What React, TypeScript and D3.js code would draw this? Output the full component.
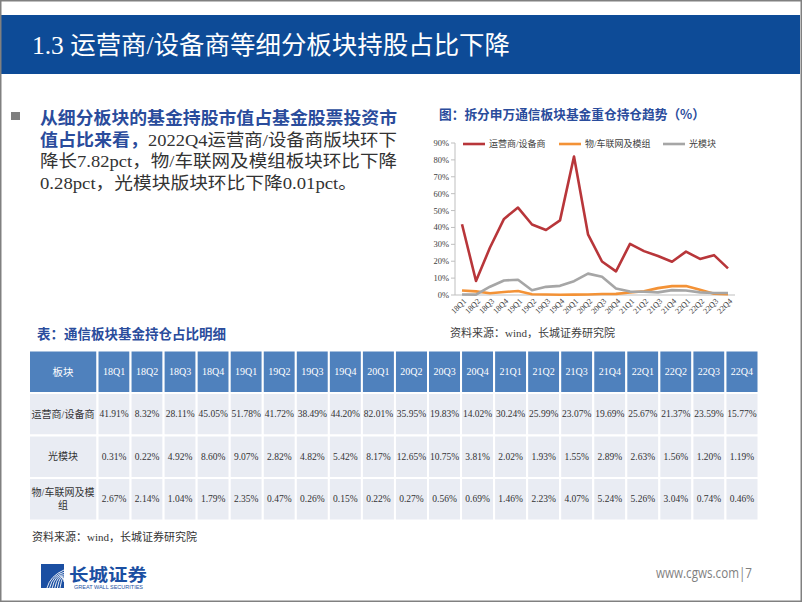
import React from 'react';
import * as d3 from 'd3';

// quarters shared by the chart and the table
const quarters = ['18Q1', '18Q2', '18Q3', '18Q4', '19Q1', '19Q2', '19Q3', '19Q4', '20Q1', '20Q2',
  '20Q3', '20Q4', '21Q1', '21Q2', '21Q3', '21Q4', '22Q1', '22Q2', '22Q3', '22Q4'];

// fund holding share by segment, %
const operatorShare = [41.91, 8.32, 28.11, 45.05, 51.78, 41.72, 38.49, 44.20, 82.01, 35.95,
  19.83, 14.02, 30.24, 25.99, 23.07, 19.69, 25.67, 21.37, 23.59, 15.77];
const opticalShare = [0.31, 0.22, 4.92, 8.60, 9.07, 2.82, 4.82, 5.42, 8.17, 12.65,
  10.75, 3.81, 2.02, 1.93, 1.55, 2.89, 2.63, 1.56, 1.20, 1.19];
const iotShare = [2.67, 2.14, 1.04, 1.79, 2.35, 0.47, 0.26, 0.15, 0.22, 0.27,
  0.56, 0.69, 1.46, 2.23, 4.07, 5.24, 5.26, 3.04, 0.74, 0.46];

const seriesNames = ['运营商/设备商', '物/车联网及模组', '光模块'];
const seriesColors = ['#B8363A', '#F39236', '#A6A6A6'];
const seriesValues = [operatorShare, iotShare, opticalShare];

// table rows (label lines, values)
const tableRows: { label: string[]; values: number[] }[] = [
  { label: ['运营商/设备商'], values: operatorShare },
  { label: ['光模块'], values: opticalShare },
  { label: ['物/车联网及模', '组'], values: iotShare },
];

const yTicks = [0, 10, 20, 30, 40, 50, 60, 70, 80, 90];

// bullet paragraph, one piece per text run
const bodyRuns = [
  { text: '从细分板块的基金持股市值占基金股票投资市', line: 0, x: 40, len: 357, blue: true },
  { text: '值占比来看，', line: 1, x: 40, len: 108, blue: true },
  { text: '2022Q4运营商/设备商版块环下', line: 1, x: 148, len: 249, blue: false },
  { text: '降长7.82pct，物/车联网及模组板块环比下降', line: 2, x: 40, len: 357, blue: false },
  { text: '0.28pct，光模块版块环比下降0.01pct。', line: 3, x: 40, len: 317, blue: false },
];

const CJK = "'Noto Sans CJK SC', sans-serif";
const SERIF_CJK = "'Liberation Serif', 'Noto Sans CJK SC', serif";
const BLUE = '#2A4C9C';

export default function App() {
  // chart scales
  const x = d3.scaleBand().domain(quarters).range([455, 735]);
  const y = d3.scaleLinear().domain([0, 90]).range([295, 143]);
  const cx = (q: string) => (x(q) as number) + x.bandwidth() / 2;
  const line = d3.line<number>()
    .x((d, i) => cx(quarters[i]))
    .y(d => y(d));

  // table scales
  const tx = d3.scaleBand().domain(quarters).range([97.5, 758.5]);
  const ty = d3.scaleBand().domain(['head', '0', '1', '2']).range([350.5, 520.5]);
  const rowH = ty.bandwidth();

  const legendX = [463, 559, 663];

  return (
    <svg width={802} height={602} style={{ position: 'absolute', left: 0, top: 0, background: '#fff' }}>
      <rect x={0} y={0} width={802} height={602} fill="#fff" />

      {/* title band */}
      <rect x={1} y={15} width={799} height={59} fill="#0D4B97" />
      <text x={32} y={54} fill="#fff" fontSize={25} fontFamily={SERIF_CJK}
        textLength={478} lengthAdjust="spacingAndGlyphs">1.3 运营商/设备商等细分板块持股占比下降</text>

      {/* bullet text */}
      <rect x={11} y={112} width={9} height={8} fill="#7F7F7F" />
      {bodyRuns.map((r, i) => (
        <text key={i} x={r.x} y={124 + r.line * 21.6} fontSize={17.5} fontFamily={SERIF_CJK}
          fill={r.blue ? BLUE : '#333'} fontWeight={r.blue ? 'bold' : 'normal'}
          textLength={r.len} lengthAdjust="spacingAndGlyphs">{r.text}</text>
      ))}

      {/* chart title */}
      <text x={439} y={119} fill={BLUE} fontSize={13} fontWeight="bold" fontFamily={CJK}
        textLength={266} lengthAdjust="spacingAndGlyphs">图：拆分申万通信板块基金重仓持仓趋势（%）</text>

      {/* y axis */}
      <line x1={455} x2={455} y1={y(90)} y2={y(0)} stroke="#BFBFBF" />
      {yTicks.map(t => (
        <g key={t}>
          <line x1={451} x2={455} y1={y(t)} y2={y(t)} stroke="#BFBFBF" />
          <text x={449} y={y(t)} dominantBaseline="central" textAnchor="end" fontSize={8.5}
            fill="#404040" fontFamily={SERIF_CJK}>{t}%</text>
        </g>
      ))}
      {/* x axis */}
      <line x1={455} x2={735} y1={y(0)} y2={y(0)} stroke="#BFBFBF" />
      {quarters.map(q => (
        <text key={q} transform={`translate(${cx(q) + 3},${y(0) + 5}) rotate(-45)`} textAnchor="end"
          dominantBaseline="central" fontSize={8} fill="#404040" fontFamily={SERIF_CJK}>{q}</text>
      ))}

      {/* series */}
      {seriesValues.map((vals, i) => (
        <path key={i} d={line(vals) || ''} fill="none" stroke={seriesColors[i]} strokeWidth={2.6}
          strokeLinejoin="round" />
      ))}

      {/* legend */}
      {seriesNames.map((n, i) => (
        <g key={n}>
          <line x1={legendX[i]} x2={legendX[i] + 22} y1={144} y2={144} stroke={seriesColors[i]} strokeWidth={2.6} />
          <text x={legendX[i] + 26} y={144} dominantBaseline="central" fontSize={9} fill="#404040"
            fontFamily={SERIF_CJK}>{n}</text>
        </g>
      ))}

      <text x={450} y={333} dominantBaseline="central" fontSize={11} fill="#404040" fontFamily={SERIF_CJK}>资料来源：wind，长城证券研究院</text>

      {/* table */}
      <text x={37} y={333} dominantBaseline="central" fill={BLUE} fontSize={13.5} fontWeight="bold"
        fontFamily={CJK}>表：通信板块基金持仓占比明细</text>

      <rect x={29} y={ty('head')} width={68.5} height={rowH} fill="#4F81BD" stroke="#fff" strokeWidth={2} />
      <text x={63} y={(ty('head') as number) + rowH / 2} textAnchor="middle" dominantBaseline="central"
        fill="#fff" fontSize={10.5} fontFamily={CJK}>板块</text>
      {quarters.map(q => (
        <g key={q}>
          <rect x={tx(q)} y={ty('head')} width={tx.bandwidth()} height={rowH} fill="#4F81BD" stroke="#fff" strokeWidth={2} />
          <text x={(tx(q) as number) + tx.bandwidth() / 2} y={(ty('head') as number) + rowH / 2}
            textAnchor="middle" dominantBaseline="central" fill="#fff" fontSize={10}
            fontFamily={SERIF_CJK}>{q}</text>
        </g>
      ))}

      {tableRows.map((r, ri) => {
        const top = ty(String(ri)) as number;
        const mid = top + rowH / 2;
        return (
          <g key={ri}>
            <rect x={29} y={top} width={68.5} height={rowH} fill="#E9ECF3" stroke="#fff" strokeWidth={2} />
            {r.label.map((s, li) => (
              <text key={li} x={63} y={mid + (li - (r.label.length - 1) / 2) * 13} textAnchor="middle"
                dominantBaseline="central" fill="#333" fontSize={10} fontFamily={SERIF_CJK}>{s}</text>
            ))}
            {r.values.map((v, ci) => (
              <g key={ci}>
                <rect x={tx(quarters[ci])} y={top} width={tx.bandwidth()} height={rowH} fill="#E9ECF3"
                  stroke="#fff" strokeWidth={2} />
                <text x={(tx(quarters[ci]) as number) + tx.bandwidth() / 2} y={mid} textAnchor="middle"
                  dominantBaseline="central" fill="#333" fontSize={9.5}
                  fontFamily={SERIF_CJK}>{v.toFixed(2)}%</text>
              </g>
            ))}
          </g>
        );
      })}

      <text x={32} y={537} dominantBaseline="central" fontSize={11} fill="#333" fontFamily={SERIF_CJK}>资料来源：wind，长城证券研究院</text>

      {/* footer logo */}
      <rect x={41} y={564} width={23} height={24} fill="#1B4FA2" />
      {[0, 1, 2, 3, 4, 5].map(i => (
        <path key={i} d={`M${47 + i * 2.6},588 Q${50 + i * 2.6},${576 - i} 64,${570 + i * 2.4}`}
          fill="none" stroke="#fff" strokeWidth={0.9} />
      ))}
      <text x={69} y={573} dominantBaseline="central" fill="#1B4FA2" fontSize={17} fontWeight="bold"
        fontFamily={CJK} textLength={78} lengthAdjust="spacingAndGlyphs">长城证券</text>
      <text x={74} y={587} dominantBaseline="central" fill="#1B4FA2" fontSize={5.5}
        fontFamily="'Liberation Sans', sans-serif" textLength={69} lengthAdjust="spacingAndGlyphs">GREAT WALL SECURITIES</text>

      <text x={656} y={578} fill="#7F7F7F" fontSize={14} fontFamily="'Open Sans', sans-serif"
        textLength={96} lengthAdjust="spacingAndGlyphs">www.cgws.com|7</text>

      {/* slide frame */}
      <rect x={0.75} y={0.75} width={800.5} height={600.5} fill="none" stroke="#808080" strokeWidth={1.5} />
    </svg>
  );
}
